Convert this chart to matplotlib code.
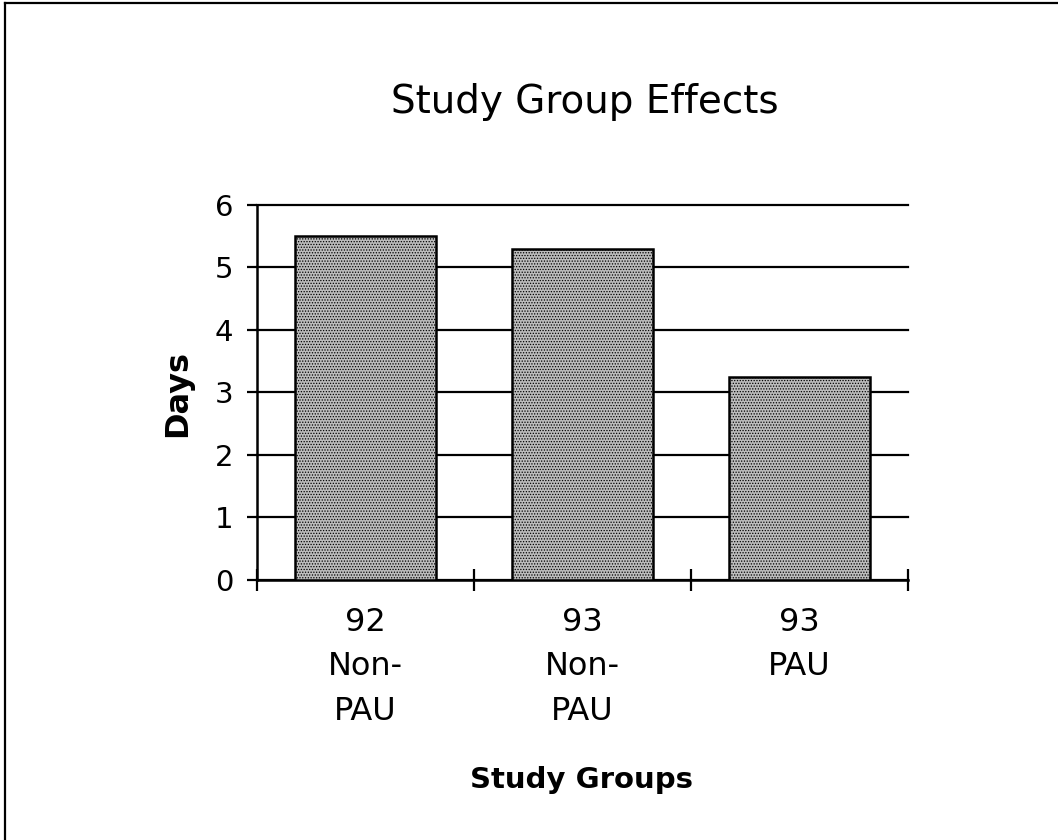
import numpy as np
import matplotlib
matplotlib.use("Agg")
import matplotlib.pyplot as plt
from matplotlib.lines import Line2D

groups = ["92\nNon-\nPAU", "93\nNon-\nPAU", "93\nPAU"]
days = [5.5, 5.3, 3.24]
yticks = [0, 1, 2, 3, 4, 5, 6]

plt.rcParams['font.family'] = 'DejaVu Sans'
plt.rcParams['hatch.linewidth'] = 0.6

fig = plt.figure(figsize=(10.58, 8.4), dpi=100)
ax = fig.add_axes([0.2429, 0.3101, 0.6153, 0.4458])

x = np.arange(len(groups))
# stippled grey fill: grey face with a dense dot hatch
ax.bar(x, days, width=0.65, color='#bcbcbc', edgecolor='black', hatch='......',
       linewidth=1.8, zorder=3)

ax.set_xlim(-0.5, len(groups) - 0.5)
ax.set_ylim(0, 6)

# horizontal grid behind the bars
ax.set_yticks(yticks)
ax.yaxis.grid(True, color='black', linewidth=1.6)
ax.set_axisbelow(True)
for gl in ax.get_ygridlines():
    gl.set_clip_on(False)
ax.tick_params(axis='y', direction='out', length=7, width=1.6, labelsize=21, pad=10)

# category boundary ticks, labels in the middle
ax.set_xticks(np.arange(-0.5, len(groups)), [''] * (len(groups) + 1))
ax.tick_params(axis='x', which='major', direction='inout', length=16, width=1.6)
ax.set_xticks(x, groups, minor=True)
ax.tick_params(axis='x', which='minor', length=0, labelsize=23, pad=20)
for lbl in ax.get_xticklabels(minor=True):
    lbl.set_linespacing(1.55)

for side in ['top', 'right']:
    ax.spines[side].set_visible(False)
for side in ['left', 'bottom']:
    ax.spines[side].set_linewidth(1.8)

fig.text(0.553, 0.879, "Study Group Effects", ha='center', va='center', fontsize=28)
fig.text(0.168, 0.531, "Days", ha='center', va='center', rotation=90,
         fontsize=23, fontweight='bold')
fig.text(0.55, 0.071, "Study Groups", ha='center', va='center',
         fontsize=21, fontweight='bold')

# frame lines on the left and top of the figure
fig.add_artist(Line2D([0.005, 0.005], [0.0, 0.996], transform=fig.transFigure,
                      color='black', linewidth=1.6))
fig.add_artist(Line2D([0.005, 1.0], [0.996, 0.996], transform=fig.transFigure,
                      color='black', linewidth=1.6))

fig.savefig("out.png", dpi=100)
